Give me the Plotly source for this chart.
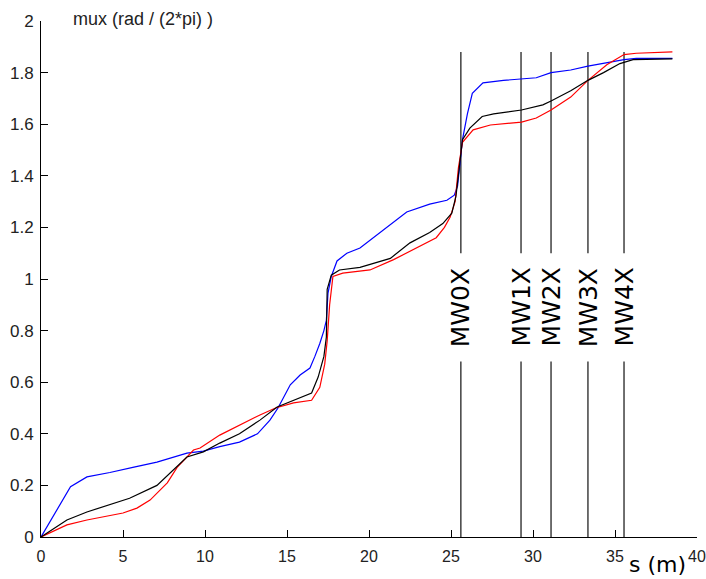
import plotly.graph_objects as go

# ---- data ----
blue_s = [0, 1.8, 2.8, 4.2, 5.6, 7.07, 8.9, 9.9, 10.9, 12.1, 13.2, 13.96, 14.45, 15.2, 15.8,
          16.4, 16.7, 17.0, 17.25, 17.4, 17.5, 17.7, 18.05, 18.65, 19.45, 20.85, 22.3, 23.7,
          24.75, 25.2, 25.4, 25.7, 26.0, 26.3, 26.95, 28.2, 29.3, 30.2, 31.1, 32.3, 33.35,
          34.7, 35.55, 36.3, 38.5]
blue_mux = [0, 0.195, 0.233, 0.25, 0.27, 0.29, 0.325, 0.333, 0.35, 0.368, 0.40, 0.453, 0.50,
            0.59, 0.628, 0.655, 0.70, 0.75, 0.80, 0.84, 0.945, 1.01, 1.07, 1.10, 1.12, 1.19,
            1.26, 1.29, 1.305, 1.325, 1.36, 1.54, 1.64, 1.72, 1.76, 1.77, 1.775, 1.78, 1.80,
            1.81, 1.825, 1.84, 1.85, 1.855, 1.855]

black_s = [0, 1.58, 2.8, 4.2, 5.4, 7.07, 8.05, 8.9, 9.9, 10.9, 12.1, 13.35, 14.4, 15.37, 16.5,
           16.9, 17.25, 17.4, 17.45, 17.7, 18.2, 19.45, 21.3, 22.5, 23.7, 24.5, 25.05, 25.3,
           25.4, 25.7, 26.15, 26.9, 27.6, 29.3, 30.6, 31.1, 32.3, 33.35, 34.3, 35.3, 36.1, 38.5]
black_mux = [0, 0.066, 0.097, 0.124, 0.15, 0.2, 0.26, 0.31, 0.33, 0.364, 0.40, 0.453, 0.504,
             0.53, 0.558, 0.62, 0.70, 0.775, 0.96, 1.015, 1.035, 1.045, 1.08, 1.14, 1.18,
             1.215, 1.255, 1.32, 1.38, 1.54, 1.585, 1.63, 1.64, 1.655, 1.675, 1.69, 1.73,
             1.77, 1.80, 1.835, 1.85, 1.853]

red_s = [0, 1.58, 2.8, 5.0, 5.85, 6.65, 7.7, 8.3, 9.3, 9.7, 10.9, 12.1, 13.35, 14.3, 15.4,
         16.5, 17.0, 17.3, 17.45, 17.6, 17.8, 18.4, 20.06, 21.5, 22.9, 24.1, 24.6, 24.95,
         25.25, 25.45, 25.7, 26.35, 27.4, 29.3, 30.2, 31.1, 32.3, 33.35, 34.5, 35.55, 36.3, 38.5]
red_mux = [0, 0.047, 0.066, 0.093, 0.112, 0.143, 0.21, 0.27, 0.337, 0.345, 0.395, 0.434,
           0.473, 0.50, 0.52, 0.53, 0.58, 0.67, 0.76, 0.90, 1.01, 1.023, 1.035, 1.075, 1.12,
           1.16, 1.2, 1.24, 1.30, 1.43, 1.53, 1.578, 1.597, 1.608, 1.624, 1.655, 1.705,
           1.77, 1.83, 1.87, 1.875, 1.88]

monitor_s = [25.6, 29.27, 31.1, 33.35, 35.55]
monitor_names = ["MW0X", "MW1X", "MW2X", "MW3X", "MW4X"]

x_ticks = [0, 5, 10, 15, 20, 25, 30, 35, 40]
y_ticks = [0, 0.2, 0.4, 0.6, 0.8, 1, 1.2, 1.4, 1.6, 1.8, 2]
y_tick_text = ["0", "0.2", "0.4", "0.6", "0.8", "1", "1.2", "1.4", "1.6", "1.8", "2"]

# ---- layout constants ----
line_low_top = 0.68
line_high_bot = 1.10
line_top = 1.88
label_y = 0.89

fig = go.Figure()

# monitor vertical lines
vx, vy = [], []
for s in monitor_s:
    vx += [s, s, None, s, s, None]
    vy += [0, line_low_top, None, line_high_bot, line_top, None]
fig.add_trace(go.Scatter(x=vx, y=vy, mode="lines",
                         line=dict(color="#404040", width=1.5),
                         hoverinfo="skip", showlegend=False))

for xs, ys, c in [(blue_s, blue_mux, "#0000ff"),
                  (red_s, red_mux, "#ff0000"),
                  (black_s, black_mux, "#000000")]:
    fig.add_trace(go.Scatter(x=xs, y=ys, mode="lines",
                             line=dict(color=c, width=1.2), showlegend=False))

for s, name in zip(monitor_s, monitor_names):
    fig.add_annotation(x=s, y=label_y, xref="x", yref="y", text=name,
                       textangle=-90, showarrow=False,
                       font=dict(family="DejaVu Sans", size=25, color="black"))

fig.add_annotation(x=0.156, y=1.003, xref="paper", yref="paper",
                   text="mux (rad / (2*pi) )", showarrow=False,
                   xanchor="center", yanchor="middle",
                   font=dict(family="Liberation Sans", size=18, color="#222"))
fig.add_annotation(x=0.9405, y=-0.053, xref="paper", yref="paper",
                   text="s (m)", showarrow=False,
                   xanchor="center", yanchor="middle",
                   font=dict(family="DejaVu Sans", size=22, color="black"))

fig.update_layout(
    width=706, height=579,
    margin=dict(l=41, r=9, t=21, b=42),
    paper_bgcolor="white", plot_bgcolor="white",
    xaxis=dict(range=[0, 40], tickvals=x_ticks, ticks="inside", ticklen=7,
               tickcolor="black", showline=True, linecolor="black", linewidth=1,
               showgrid=False, zeroline=False, automargin=False,
               tickfont=dict(family="Liberation Sans", size=16, color="#222"),
               ticklabelstandoff=5),
    yaxis=dict(range=[0, 2], tickvals=y_ticks, ticktext=y_tick_text,
               ticks="inside", ticklen=7, tickcolor="black", showline=True,
               linecolor="black", linewidth=1, showgrid=False, zeroline=False,
               automargin=False,
               tickfont=dict(family="Liberation Sans", size=17, color="#222"),
               ticklabelstandoff=3),
)

fig.write_html("out.html", config={"displayModeBar": False},
               post_script="document.body.style.margin='0px';document.body.style.overflow='hidden';")
